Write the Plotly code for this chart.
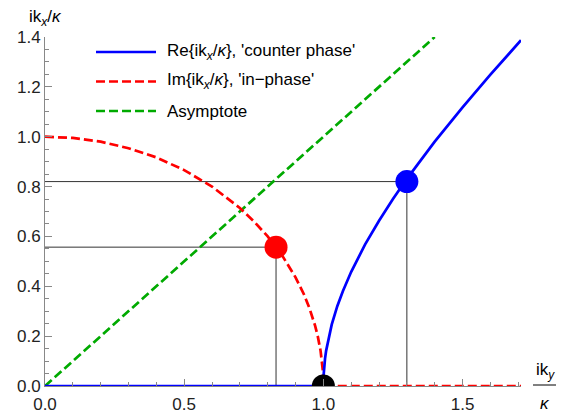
import plotly.graph_objects as go

# --- data ---
re_x = [0.0, 1.0, 1.001, 1.003, 1.006, 1.01, 1.02, 1.03, 1.05, 1.07, 1.1, 1.15, 1.2, 1.25,
        1.3, 1.4, 1.5, 1.6, 1.71]
re_y = [0.0, 0.0, 0.045, 0.078, 0.11, 0.142, 0.20, 0.246, 0.32, 0.38, 0.458, 0.568, 0.663,
        0.75, 0.831, 0.98, 1.118, 1.249, 1.387]

im_x = [0.0, 0.1, 0.2, 0.3, 0.4, 0.5, 0.6, 0.7, 0.75, 0.8, 0.85, 0.9, 0.93, 0.95, 0.97,
        0.98, 0.99, 0.995, 0.998, 1.0, 1.71]
im_y = [1.0, 0.995, 0.98, 0.954, 0.917, 0.866, 0.8, 0.714, 0.661, 0.6, 0.527, 0.436, 0.368,
        0.312, 0.243, 0.199, 0.141, 0.1, 0.063, 0.0, 0.0]

asym_x = [0.0, 1.4]
asym_y = [0.0, 1.4]

pt_red = (0.83, 0.557)
pt_blue = (1.30, 0.82)
pt_black = (1.0, 0.0)

x_ticks = [0.0, 0.5, 1.0, 1.5]
y_ticks = [0.0, 0.2, 0.4, 0.6, 0.8, 1.0, 1.2, 1.4]

legend_names = ["Re{ik<sub><i>x</i></sub>/<i>κ</i>}, 'counter phase'",
                "Im{ik<sub><i>x</i></sub>/<i>κ</i>}, 'in\u2212phase'",
                "Asymptote"]

FONT = "Liberation Sans, Arial, sans-serif"
BLUE = "#0000ff"
RED = "#ff0000"
GREEN = "#00aa00"
GUIDE = "#333333"

FW, FH = 563, 413
L, R, T, B = 45, 521, 37, 386
W, H = R - L, B - T


def px2paper(x, y):
    return (x - L) / W, (B - y) / H


fig = go.Figure()

# guide lines
for (px, py) in [pt_red, pt_blue]:
    fig.add_trace(go.Scatter(x=[0, px, px], y=[py, py, 0], mode="lines",
                             line=dict(color=GUIDE, width=1), showlegend=False,
                             hoverinfo="skip"))

fig.add_trace(go.Scatter(x=asym_x, y=asym_y, mode="lines", name=legend_names[2],
                         line=dict(color=GREEN, width=2.7, dash="9px,4px"), showlegend=False))
fig.add_trace(go.Scatter(x=im_x, y=im_y, mode="lines", name=legend_names[1],
                         line=dict(color=RED, width=2.7, dash="9px,4px"), showlegend=False))
fig.add_trace(go.Scatter(x=re_x, y=re_y, mode="lines", name=legend_names[0],
                         line=dict(color=BLUE, width=2.7), showlegend=False))

for (pt, col) in [(pt_red, RED), (pt_blue, BLUE), (pt_black, "black")]:
    fig.add_trace(go.Scatter(x=[pt[0]], y=[pt[1]], mode="markers",
                             marker=dict(color=col, size=23, line=dict(width=0)),
                             showlegend=False, cliponaxis=True))

# manual legend
leg_rows = [52, 81.5, 111]
leg_styles = [dict(color=BLUE, width=2.7), dict(color=RED, width=2.7, dash="9px,4px"),
              dict(color=GREEN, width=2.7, dash="9px,4px")]
for yy, st, name in zip(leg_rows, leg_styles, legend_names):
    x0, y0 = px2paper(96, yy)
    x1, _ = px2paper(156, yy)
    fig.add_shape(type="line", xref="paper", yref="paper", x0=x0, x1=x1, y0=y0, y1=y0,
                  line=st)
    tx, _ = px2paper(165, yy)
    fig.add_annotation(xref="paper", yref="paper", x=tx, y=y0, text=name, showarrow=False,
                       xanchor="left", yanchor="middle",
                       font=dict(family=FONT, size=17, color="black"))

# axis titles
ax, ay = px2paper(45, 18)
fig.add_annotation(xref="paper", yref="paper", x=ax, y=ay, text="ik<sub><i>x</i></sub>/<i>κ</i>",
                   showarrow=False, xanchor="center", yanchor="middle",
                   font=dict(family=FONT, size=17, color="black"))
fx, fy1 = px2paper(545, 371)
_, fy2 = px2paper(545, 404)
fig.add_annotation(xref="paper", yref="paper", x=fx, y=fy1, text="ik<sub><i>y</i></sub>",
                   showarrow=False, xanchor="center", yanchor="middle",
                   font=dict(family=FONT, size=17, color="black"))
fig.add_annotation(xref="paper", yref="paper", x=fx, y=fy2, text="<i>κ</i>",
                   showarrow=False, xanchor="center", yanchor="middle",
                   font=dict(family=FONT, size=17, color="black"))
lx0, ly = px2paper(533, 385)
lx1, _ = px2paper(556, 385)
fig.add_shape(type="line", xref="paper", yref="paper", x0=lx0, x1=lx1, y0=ly, y1=ly,
              line=dict(color="black", width=1))

axis_common = dict(showgrid=False, zeroline=False, showline=True, linecolor="#888888",
                   linewidth=1, ticks="inside", ticklen=7, tickcolor="#888888",
                   automargin=False,
                   tickformat=".1f", tickfont=dict(family=FONT, size=17, color="#222222"))

fig.update_xaxes(range=[0, 1.71], tickmode="array", tickvals=x_ticks,
                 ticklabelstandoff=3,
                 minor=dict(dtick=0.1, ticks="inside", ticklen=4, tickcolor="#888888"),
                 **axis_common)
fig.update_yaxes(range=[0, 1.4], tickmode="array", tickvals=y_ticks,
                 minor=dict(dtick=0.05, ticks="inside", ticklen=4, tickcolor="#888888"),
                 **axis_common)

fig.update_layout(width=FW, height=FH, autosize=False,
                  margin=dict(l=L, r=FW - R, t=T, b=FH - B, autoexpand=False),
                  plot_bgcolor="white", paper_bgcolor="white", showlegend=False)

fig.write_html("out.html", config={"displayModeBar": False},
               post_script="document.body.style.margin='0';document.body.style.overflow='hidden';")
